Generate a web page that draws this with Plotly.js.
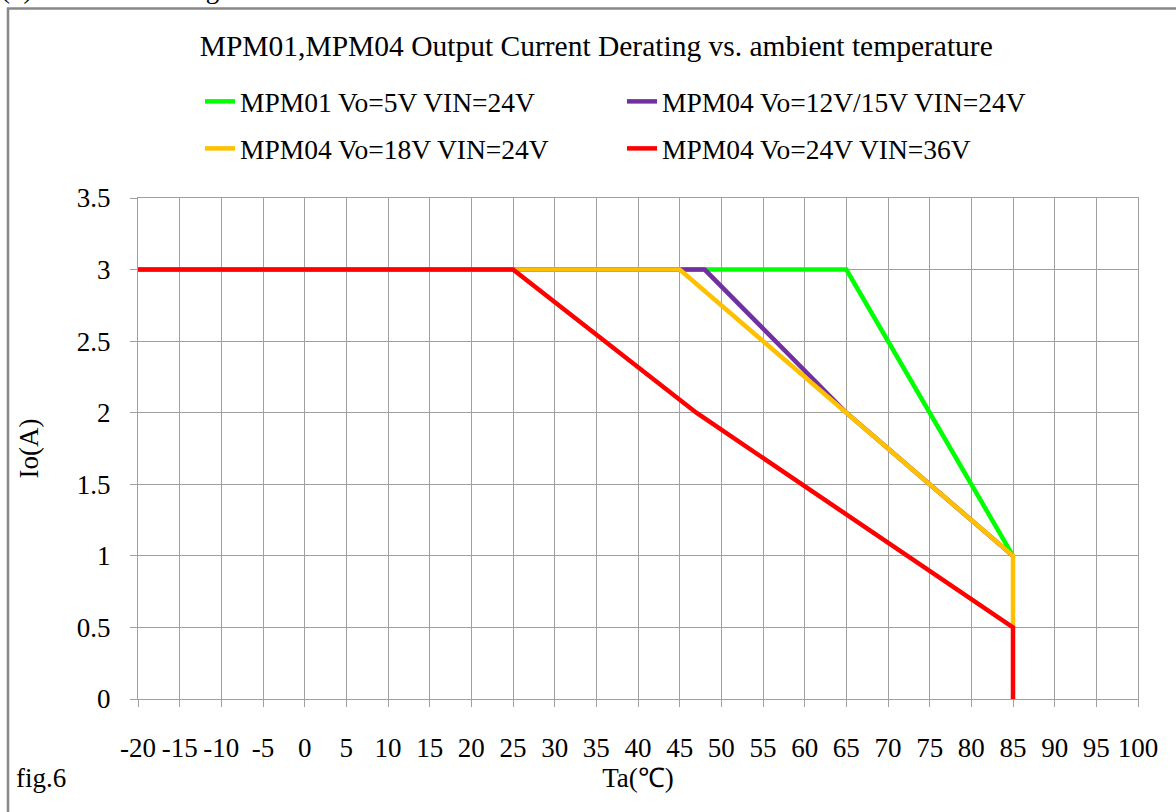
<!DOCTYPE html>
<html>
<head>
<meta charset="utf-8">
<script src="https://cdn.plot.ly/plotly-3.0.1.min.js"></script>
<style>
html,body{margin:0;padding:0;background:#fff;}
#chart{width:1176px;height:812px;}
</style>
</head>
<body>
<div id="chart"></div>
<script>
// ---- data ----
var seriesNames = ["MPM01 Vo=5V VIN=24V", "MPM04 Vo=12V/15V VIN=24V", "MPM04 Vo=18V VIN=24V", "MPM04 Vo=24V VIN=36V"];
var seriesColors = ["#00ff00", "#7030a0", "#ffc000", "#ff0000"];
var mpm01_5V_T   = [-20, 65, 85];
var mpm01_5V_I   = [3, 3, 1];
var mpm04_12V_T  = [-20, 48, 65, 85];
var mpm04_12V_I  = [3, 3, 2, 1];
var mpm04_18V_T  = [-20, 45, 65, 85, 85];
var mpm04_18V_I  = [3, 3, 2, 1, 0.5];
var mpm04_24V_T  = [-20, 25, 47, 85, 85];
var mpm04_24V_I  = [3, 3, 2, 0.5, 0];
var xTickVals = [-20, -15, -10, -5, 0, 5, 10, 15, 20, 25, 30, 35, 40, 45, 50, 55, 60, 65, 70, 75, 80, 85, 90, 95, 100];
var xTickText = ["-20", "-15", "-10", "-5", "0", "5", "10", "15", "20", "25", "30", "35", "40", "45", "50", "55", "60", "65", "70", "75", "80", "85", "90", "95", "100"];
var yTickVals = [0, 0.5, 1, 1.5, 2, 2.5, 3, 3.5];
var yTickText = ["0", "0.5", "1", "1.5", "2", "2.5", "3", "3.5"];
var chartTitle = "MPM01,MPM04 Output Current Derating vs. ambient temperature";
var xTitle = "Ta(\u2103)";
var yTitle = "Io(A)";
var figLabel = "fig.6";
var headerText = "(3)Thermal derating curve";

var FONT = "'Liberation Serif','Times New Roman',serif";
var grid = "#a0a0a0";

function tr(x, y, i, legend) {
  return {x: x, y: y, type: "scatter", mode: "lines", name: seriesNames[i],
    line: {color: seriesColors[i], width: 4.5}, legend: legend, hoverinfo: "x+y+name"};
}
var traces = [
  tr(mpm01_5V_T, mpm01_5V_I, 0, "legend"),
  tr(mpm04_12V_T, mpm04_12V_I, 1, "legend"),
  tr(mpm04_18V_T, mpm04_18V_I, 2, "legend2"),
  tr(mpm04_24V_T, mpm04_24V_I, 3, "legend2")
];

var legendCommon = {orientation: "h", xref: "paper", yref: "paper", xanchor: "left", yanchor: "top",
  font: {family: FONT, size: 27.5, color: "#000"}, entrywidth: 377, entrywidthmode: "pixels",
  bgcolor: "rgba(0,0,0,0)", traceorder: "normal"};

var layout = {
  width: 1176, height: 812,
  margin: {l: 138, r: 38, t: 198, b: 113},
  paper_bgcolor: "#fff", plot_bgcolor: "#fff",
  font: {family: FONT, color: "#000", size: 27},
  showlegend: true,
  title: {text: chartTitle, font: {family: FONT, size: 29.5, color: "#000"},
    xref: "container", x: 0.507, xanchor: "center", yref: "container", y: 1 - 46/812, yanchor: "middle"},
  legend: Object.assign({}, legendCommon, {x: 0.062, y: (699-77)/501}),
  legend2: Object.assign({}, legendCommon, {x: 0.062, y: (699-124)/501}),
  xaxis: {range: [-20, 100], tickmode: "array", tickvals: xTickVals, ticktext: xTickText, tickangle: 0,
    showgrid: true, gridcolor: grid, gridwidth: 1,
    zeroline: false, showline: true, linecolor: grid, linewidth: 1, mirror: true,
    ticks: "outside", ticklen: 7, tickcolor: grid, tickwidth: 1, ticklabelstandoff: 18,
    tickfont: {family: FONT, size: 27, color: "#000"},
    title: {text: xTitle, font: {family: FONT, size: 27, color: "#000"}, standoff: 0}},
  yaxis: {range: [0, 3.5], tickmode: "array", tickvals: yTickVals, ticktext: yTickText,
    showgrid: true, gridcolor: grid, gridwidth: 1,
    zeroline: false, showline: true, linecolor: grid, linewidth: 1, mirror: true,
    ticks: "outside", ticklen: 7, tickcolor: grid, tickwidth: 1, ticklabelstandoff: 14,
    tickfont: {family: FONT, size: 27, color: "#000"},
    title: {text: yTitle, font: {family: FONT, size: 27, color: "#000"}, standoff: 30}},
  shapes: [
    {type: "rect", xref: "paper", yref: "paper", x0: (8-138)/1000, x1: (1190-138)/1000,
     y0: (699-830)/501, y1: (699-8.5)/501, line: {color: "#888888", width: 2.5}, fillcolor: "rgba(0,0,0,0)", layer: "below"}
  ],
  annotations: [
    {text: figLabel, xref: "paper", yref: "paper", x: (14-138)/1000, y: (699-778)/501,
     xanchor: "left", yanchor: "middle", showarrow: false, font: {family: FONT, size: 27, color: "#000"}},
    {text: headerText, xref: "paper", yref: "paper", x: (-1-138)/1000, y: (699-6)/501,
     xanchor: "left", yanchor: "bottom", showarrow: false, font: {family: FONT, size: 27, color: "#000"}}
  ]
};

Plotly.newPlot("chart", traces, layout, {displayModeBar: false});
</script>
</body>
</html>
